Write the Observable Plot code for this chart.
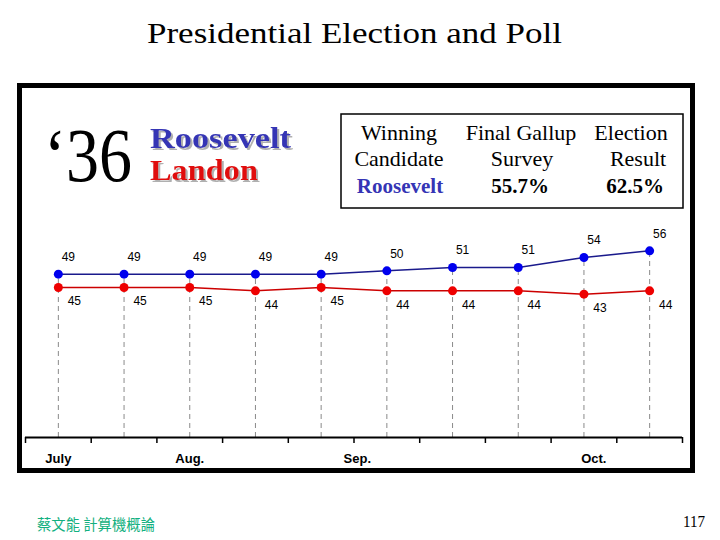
<!DOCTYPE html>
<html>
<head>
<meta charset="utf-8">
<script src="https://cdn.jsdelivr.net/npm/d3@7"></script>
<script src="https://cdn.jsdelivr.net/npm/@observablehq/plot@0.6"></script>
<style>
  html, body { margin: 0; padding: 0; background: #fff; }
  #page { position: relative; width: 720px; height: 540px; overflow: hidden; background: #fff; }
  #frame { position: absolute; left: 17px; top: 83px; width: 668px; height: 380px; border: 5px solid #000; background: #fff; }
  #chart { position: absolute; left: 22px; top: 218px; }
  #deco { position: absolute; left: 0; top: 0; pointer-events: none; }
</style>
</head>
<body>
<div id="page">
  <div id="frame"></div>
  <div id="chart"></div>
  <svg id="deco" width="720" height="540" xmlns="http://www.w3.org/2000/svg">
    <defs>
      <filter id="shadow" x="-10%" y="-20%" width="130%" height="160%">
        <feDropShadow dx="2" dy="2" stdDeviation="0.4" flood-color="#b0b0b0" flood-opacity="1"/>
      </filter>
    </defs>
    <text x="354.5" y="43" text-anchor="middle" font-family="Liberation Serif, serif" font-size="30" textLength="415" lengthAdjust="spacingAndGlyphs" fill="#000">Presidential Election and Poll</text>
    <text x="44" y="181" font-family="Liberation Serif, serif" font-size="76" textLength="88" lengthAdjust="spacingAndGlyphs" fill="#000">‘36</text>
    <text x="150" y="148" filter="url(#shadow)" font-family="Liberation Serif, serif" font-weight="bold" font-size="30" textLength="141" lengthAdjust="spacingAndGlyphs" fill="#3535b5">Roosevelt</text>
    <text x="150" y="180" filter="url(#shadow)" font-family="Liberation Serif, serif" font-weight="bold" font-size="30" textLength="108" lengthAdjust="spacingAndGlyphs" fill="#e01010">Landon</text>
    <rect x="341" y="114" width="342" height="94" fill="none" stroke="#000" stroke-width="1.5"/>
    <g font-family="Liberation Serif, serif" font-size="22" fill="#000" text-anchor="middle">
      <text x="399" y="140">Winning</text>
      <text x="399" y="166">Candidate</text>
      <text x="521" y="140">Final Gallup</text>
      <text x="522" y="166">Survey</text>
      <text x="631" y="140">Election</text>
      <text x="638" y="166">Result</text>
    </g>
    <g font-family="Liberation Serif, serif" font-size="21" font-weight="bold" text-anchor="middle">
      <text x="400" y="193" fill="#3535b5">Roosevelt</text>
      <text x="520" y="193" fill="#000">55.7%</text>
      <text x="635" y="193" fill="#000">62.5%</text>
    </g>
    <text x="37" y="529.5" font-family="Noto Sans CJK TC, Noto Sans CJK SC, sans-serif" font-size="14.5" textLength="118" lengthAdjust="spacingAndGlyphs" fill="#12b080">蔡文能 計算機概論</text>
    <text x="683" y="527" font-family="Liberation Serif, serif" font-size="17" textLength="22" lengthAdjust="spacingAndGlyphs" fill="#000">117</text>
  </svg>
</div>
<script>
// Gallup poll readings, 1936 (percent)
const pollIndex = [0, 1, 2, 3, 4, 5, 6, 7, 8, 9];
const roosevelt = [49, 49, 49, 49, 49, 50, 51, 51, 54, 56];
const landon    = [45, 45, 45, 44, 45, 44, 44, 44, 43, 44];
const monthLabels = ["July", "Aug.", "Sep.", "Oct."];
const monthPos    = [0, 2, 4.55, 8.15];

const rows = pollIndex.map((i, k) => ({ i, r: roosevelt[k], l: landon[k] }));
const tickPos = d3.range(-0.5, 10, 1);

const chart = Plot.plot({
  width: 668,
  height: 250,
  marginLeft: 3,
  marginRight: 8,
  marginTop: 19,
  marginBottom: 31,
  x: { domain: [-0.5, 9.5], label: null },
  y: { domain: [0, 60], axis: null },
  style: { fontFamily: "Liberation Sans, Arial, sans-serif", background: "transparent", overflow: "visible" },
  marks: [
    Plot.ruleX(rows, { x: "i", y1: 0, y2: "r", stroke: "#8a8a8a", strokeWidth: 1, strokeDasharray: "5,4" }),
    Plot.ruleY([0], { stroke: "#000", strokeWidth: 2 }),
    Plot.axisX({ ticks: tickPos, tickSize: 6, tickFormat: () => "", stroke: "#000", strokeWidth: 1.5, label: null }),
    Plot.text(monthLabels, { x: (d, k) => monthPos[k], y: () => 0, text: d => d, dy: 21, fontSize: 13, fontWeight: "bold", fill: "#000" }),
    Plot.line(rows, { x: "i", y: "l", stroke: "#cc0000", strokeWidth: 1.5 }),
    Plot.line(rows, { x: "i", y: "r", stroke: "#1a1a8c", strokeWidth: 1.5 }),
    Plot.dot(rows, { x: "i", y: "l", r: 4.5, fill: "#ee0000" }),
    Plot.dot(rows, { x: "i", y: "r", r: 4.5, fill: "#0000ee" }),
    Plot.text(rows, { x: "i", y: "r", text: d => String(d.r), dx: 10, dy: -17, fontSize: 12, fill: "#000" }),
    Plot.text(rows, { x: "i", y: "l", text: d => String(d.l), dx: 16, dy: 14, fontSize: 12, fill: "#000" })
  ]
});
document.getElementById("chart").appendChild(chart);
</script>
</body>
</html>
